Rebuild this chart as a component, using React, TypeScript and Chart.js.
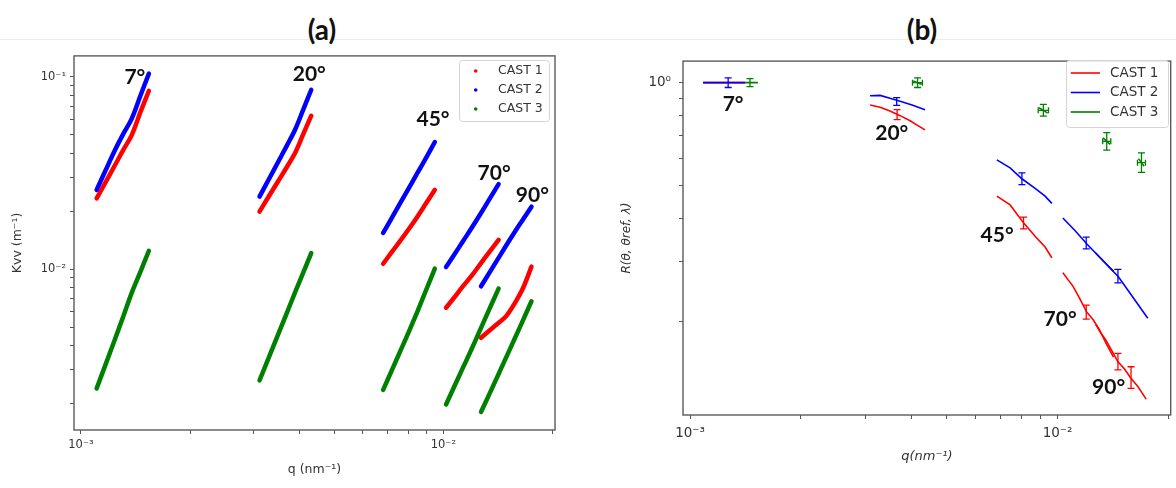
import React, { useEffect, useRef } from 'react';
import { Chart, registerables } from 'chart.js';

Chart.register(...registerables);

// ---------- shared ----------
const CASTS = ['CAST 1', 'CAST 2', 'CAST 3'];
const CAST_COLORS = ['#ff0000', '#0000ff', '#008000'];
const ANGLES = ['7°', '20°', '45°', '70°', '90°'];

// ---------- panel (a): Kvv (m^-1) vs q (nm^-1) ----------
const A_Q_7 = [0.001105, 0.00117, 0.00124, 0.00131, 0.00138, 0.00146, 0.00154];
const A_CAST1_7 = [0.0233, 0.0283, 0.0345, 0.0417, 0.0495, 0.0655, 0.0844];
const A_CAST2_7 = [0.0258, 0.0326, 0.0413, 0.0505, 0.0603, 0.0797, 0.1036];
const A_CAST3_7 = [0.0024, 0.0032, 0.0043, 0.0057, 0.0075, 0.0097, 0.01245];

const A_Q_20 = [0.00311, 0.0033, 0.0035, 0.0037, 0.0039, 0.0041, 0.00432];
const A_CAST1_20 = [0.0199, 0.0239, 0.0286, 0.0339, 0.0402, 0.0499, 0.0626];
const A_CAST2_20 = [0.0238, 0.0293, 0.036, 0.0438, 0.0531, 0.0669, 0.0854];
const A_CAST3_20 = [0.00264, 0.00348, 0.00458, 0.00593, 0.00759, 0.00953, 0.0121];

const A_Q_45 = [0.00682, 0.0072, 0.0076, 0.008, 0.00845, 0.00895, 0.00947];
const A_CAST1_45 = [0.01066, 0.01224, 0.014, 0.016, 0.01855, 0.0219, 0.0258];
const A_CAST2_45 = [0.0154, 0.0184, 0.022, 0.026, 0.0312, 0.0377, 0.0457];
const A_CAST3_45 = [0.00236, 0.00297, 0.00374, 0.00465, 0.00593, 0.00774, 0.01005];

const A_Q_70 = [0.01017, 0.0107, 0.0113, 0.012, 0.0127, 0.0134, 0.0142];
const A_CAST1_70 = [0.0063, 0.0071, 0.0081, 0.0093, 0.01075, 0.0123, 0.0142];
const A_CAST2_70 = [0.01024, 0.01184, 0.01387, 0.01649, 0.01955, 0.0231, 0.0276];
const A_CAST3_70 = [0.00198, 0.00244, 0.00305, 0.00389, 0.00495, 0.00621, 0.00792];

const A_Q_90 = [0.0127, 0.0134, 0.0141, 0.0149, 0.0157, 0.0166, 0.0175];
const A_CAST1_90 = [0.0044, 0.0048, 0.0052, 0.0057, 0.0066, 0.008, 0.0103];
const A_CAST2_90 = [0.00814, 0.00958, 0.01119, 0.01326, 0.01549, 0.01816, 0.0211];
const A_CAST3_90 = [0.00181, 0.00225, 0.00277, 0.00348, 0.00432, 0.00545, 0.00681];

const A_LABEL_Q = [0.001409, 0.004266, 0.009362, 0.0138, 0.0176];
const A_LABEL_K = [0.0988, 0.1027, 0.0603, 0.03136, 0.02427];

// ---------- panel (b): R(theta, theta_ref, lambda) vs q ----------
const B_Q1_7 = [0.001085, 0.00125, 0.001413];
const B_R1_7 = [1.0, 1.0, 1.0];
const B_Q2_7 = [0.001085, 0.00125, 0.001413];
const B_R2_7 = [1.0, 1.0, 1.0];
const B_Q3_7 = [0.001413, 0.00147, 0.00153];
const B_R3_7 = [1.0, 1.0, 1.0];

const B_Q1_20 = [0.00309, 0.00329, 0.0035, 0.00373, 0.00397, 0.00417, 0.00436];
const B_R1_20 = [0.861, 0.848, 0.826, 0.801, 0.774, 0.749, 0.728];
const B_Q2_20 = [0.00309, 0.00329, 0.0035, 0.00373, 0.00402, 0.00436];
const B_R2_20 = [0.916, 0.918, 0.9, 0.882, 0.86, 0.834];
const B_Q3_20 = [0.00405, 0.00416, 0.00427];
const B_R3_20 = [1.012, 1.0, 0.99];

const B_Q1_45 = [0.00684, 0.00743, 0.00808, 0.00869, 0.00925, 0.00965];
const B_R1_45 = [0.466, 0.4395, 0.3895, 0.356, 0.331, 0.308];
const B_Q2_45 = [0.00684, 0.00743, 0.008, 0.00869, 0.00925, 0.00965];
const B_R2_45 = [0.595, 0.564, 0.524, 0.491, 0.466, 0.444];
const B_Q3_45 = [0.0089, 0.00915, 0.0094];
const B_R3_45 = [0.845, 0.83, 0.815];

const B_Q1_70 = [0.01034, 0.0107, 0.011, 0.0114, 0.012, 0.0125, 0.013, 0.0136, 0.0142];
const B_R1_70 = [0.2786, 0.265, 0.255, 0.238, 0.214, 0.203, 0.19, 0.172, 0.158];
const B_Q2_70 = [0.01034, 0.0112, 0.01202, 0.0131, 0.0142];
const B_R2_70 = [0.4026, 0.368, 0.338, 0.307, 0.281];
const B_Q3_70 = [0.0133, 0.01361, 0.0139];
const B_R3_70 = [0.69, 0.674, 0.66];

const B_Q1_90 = [0.0127, 0.0131, 0.0135, 0.014, 0.0146, 0.0152, 0.0158, 0.0165, 0.017, 0.01742];
const B_R1_90 = [0.197, 0.186, 0.178, 0.166, 0.153, 0.146, 0.1375, 0.13, 0.124, 0.119];
const B_Q2_90 = [0.0127, 0.0135, 0.01464, 0.016, 0.0176];
const B_R2_90 = [0.318, 0.297, 0.271, 0.237, 0.205];
const B_Q3_90 = [0.0166, 0.01692, 0.0172];
const B_R3_90 = [0.6, 0.584, 0.57];

// error bars (vertical)
const B_ERR_Q_CAST1 = [0.00366, 0.00808, 0.01197, 0.0146, 0.01585];
const B_ERR_LO_CAST1 = [0.78, 0.374, 0.204, 0.145, 0.128];
const B_ERR_HI_CAST1 = [0.834, 0.405, 0.224, 0.162, 0.148];
const B_ERR_Q_CAST2 = [0.00127, 0.00365, 0.008, 0.01197, 0.0146];
const B_ERR_LO_CAST2 = [0.968, 0.858, 0.504, 0.327, 0.26];
const B_ERR_HI_CAST2 = [1.033, 0.904, 0.545, 0.354, 0.285];
const B_ERR_Q_CAST3 = [0.001456, 0.00416, 0.00915, 0.01361, 0.01692];
const B_ERR_LO_CAST3 = [0.974, 0.968, 0.798, 0.635, 0.547];
const B_ERR_HI_CAST3 = [1.027, 1.033, 0.864, 0.715, 0.624];
// error bars (horizontal, CAST 3)
const B_XERR_R_CAST3 = [1.0, 0.83, 0.674, 0.584];
const B_XERR_LO_CAST3 = [0.00403, 0.00886, 0.01327, 0.0165];
const B_XERR_HI_CAST3 = [0.00429, 0.00945, 0.01396, 0.01735];

const B_LABEL_Q = [0.00131, 0.00354, 0.006849, 0.01016, 0.01377];
const B_LABEL_R = [0.865, 0.71, 0.3583, 0.2039, 0.1286];

// ---------- ticks ----------
const X_MIN = 0.000957;
const X_MAX = 0.02032;
const X_MAJOR = [0.001, 0.01];
const X_MAJOR_LABELS = ['10⁻³', '10⁻²'];
const X_MINOR = [0.002, 0.003, 0.004, 0.005, 0.006, 0.007, 0.008, 0.009, 0.02];

const A_Y_MIN = 0.00146;
const A_Y_MAX = 0.128;
const A_Y_MAJOR = [0.01, 0.1];
const A_Y_MAJOR_LABELS = ['10⁻²', '10⁻¹'];
const A_Y_MINOR = [0.002, 0.003, 0.004, 0.005, 0.006, 0.007, 0.008, 0.009, 0.02, 0.03, 0.04, 0.05, 0.06, 0.07, 0.08, 0.09];

const B_Y_MIN = 0.107;
const B_Y_MAX = 1.156;
const B_Y_MAJOR = [1];
const B_Y_MAJOR_LABELS = ['10⁰'];
const B_Y_MINOR = [0.2, 0.3, 0.4, 0.5, 0.6, 0.7, 0.8, 0.9];

// ---------- tables built from the arrays ----------
const A_SERIES = [
  { q: A_Q_7, k: [A_CAST1_7, A_CAST2_7, A_CAST3_7] },
  { q: A_Q_20, k: [A_CAST1_20, A_CAST2_20, A_CAST3_20] },
  { q: A_Q_45, k: [A_CAST1_45, A_CAST2_45, A_CAST3_45] },
  { q: A_Q_70, k: [A_CAST1_70, A_CAST2_70, A_CAST3_70] },
  { q: A_Q_90, k: [A_CAST1_90, A_CAST2_90, A_CAST3_90] },
];

const B_SERIES = [
  [[B_Q1_7, B_R1_7], [B_Q2_7, B_R2_7], [B_Q3_7, B_R3_7]],
  [[B_Q1_20, B_R1_20], [B_Q2_20, B_R2_20], [B_Q3_20, B_R3_20]],
  [[B_Q1_45, B_R1_45], [B_Q2_45, B_R2_45], [B_Q3_45, B_R3_45]],
  [[B_Q1_70, B_R1_70], [B_Q2_70, B_R2_70], [B_Q3_70, B_R3_70]],
  [[B_Q1_90, B_R1_90], [B_Q2_90, B_R2_90], [B_Q3_90, B_R3_90]],
];

const B_ERRORS = [
  [B_ERR_Q_CAST1, B_ERR_LO_CAST1, B_ERR_HI_CAST1],
  [B_ERR_Q_CAST2, B_ERR_LO_CAST2, B_ERR_HI_CAST2],
  [B_ERR_Q_CAST3, B_ERR_LO_CAST3, B_ERR_HI_CAST3],
];

// ---------- styling helpers ----------
const FONT = "'DejaVu Sans', 'Liberation Sans', sans-serif";
const BOLD_FONT = "Lato, 'Open Sans', sans-serif";
const TICK_COLOR = '#555555';
const LABEL_COLOR = '#333333';

function makeAxis(p: any) {
  const values = [...p.major, ...p.minor].sort((a: number, b: number) => a - b);
  return {
    type: 'logarithmic',
    position: p.position,
    min: p.min,
    max: p.max,
    afterBuildTicks: (scale: any) => {
      scale.ticks = values.map((v: number) => ({ value: v, major: p.major.includes(v) }));
    },
    afterFit: (scale: any) => {
      if (p.position === 'bottom') scale.height = p.size;
      else scale.width = p.size;
    },
    ticks: {
      autoSkip: false,
      maxRotation: 0,
      minRotation: 0,
      padding: p.pad,
      color: LABEL_COLOR,
      font: { family: FONT, size: p.fontSize },
      callback: (v: number) => {
        const i = p.major.findIndex((m: number) => Math.abs(m - v) <= m * 1e-6);
        return i >= 0 ? p.majorLabels[i] : '';
      },
    },
    grid: {
      display: true,
      drawOnChartArea: false,
      drawTicks: true,
      tickLength: 4,
      tickColor: TICK_COLOR,
      tickWidth: 1,
    },
    border: { display: false },
    title: {
      display: true,
      text: p.title,
      color: LABEL_COLOR,
      font: { family: FONT, size: p.titleSize, style: p.italic ? 'italic' : 'normal' },
      padding: p.titlePad,
    },
  };
}

const framePlugin = {
  id: 'frame',
  afterDatasetsDraw(chart: any) {
    const { ctx, chartArea: a } = chart;
    ctx.save();
    ctx.strokeStyle = '#5a5a5a';
    ctx.lineWidth = 1.4;
    ctx.strokeRect(a.left, a.top, a.right - a.left, a.bottom - a.top);
    ctx.restore();
  },
};

function angleLabelPlugin(qs: number[], vs: number[], size: number) {
  return {
    id: 'angleLabels',
    afterDatasetsDraw(chart: any) {
      const { ctx, scales } = chart;
      ctx.save();
      ctx.font = `bold ${size}px ${BOLD_FONT}`;
      ctx.fillStyle = '#111111';
      ctx.textAlign = 'center';
      ctx.textBaseline = 'middle';
      ANGLES.forEach((t, i) => {
        ctx.fillText(t, scales.x.getPixelForValue(qs[i]), scales.y.getPixelForValue(vs[i]));
      });
      ctx.restore();
    },
  };
}

function legendPlugin(cfg: any) {
  return {
    id: 'boxLegend',
    afterDraw(chart: any) {
      const ctx = chart.ctx;
      const { x0, y0, x1, y1 } = cfg.box;
      const r = 3;
      ctx.save();
      ctx.beginPath();
      ctx.moveTo(x0 + r, y0);
      ctx.lineTo(x1 - r, y0);
      ctx.arcTo(x1, y0, x1, y0 + r, r);
      ctx.lineTo(x1, y1 - r);
      ctx.arcTo(x1, y1, x1 - r, y1, r);
      ctx.lineTo(x0 + r, y1);
      ctx.arcTo(x0, y1, x0, y1 - r, r);
      ctx.lineTo(x0, y0 + r);
      ctx.arcTo(x0, y0, x0 + r, y0, r);
      ctx.closePath();
      ctx.fillStyle = 'rgba(255,255,255,0.85)';
      ctx.fill();
      ctx.strokeStyle = '#d4d4d4';
      ctx.lineWidth = 1;
      ctx.stroke();
      CASTS.forEach((name, i) => {
        const y = cfg.firstRow + i * cfg.rowGap;
        if (cfg.kind === 'dot') {
          ctx.fillStyle = CAST_COLORS[i];
          ctx.beginPath();
          ctx.arc(cfg.markX0, y, 1.8, 0, Math.PI * 2);
          ctx.fill();
        } else {
          ctx.strokeStyle = CAST_COLORS[i];
          ctx.lineWidth = 1.6;
          ctx.beginPath();
          ctx.moveTo(cfg.markX0, y);
          ctx.lineTo(cfg.markX1, y);
          ctx.stroke();
        }
        ctx.fillStyle = LABEL_COLOR;
        ctx.font = `${cfg.fontSize}px ${FONT}`;
        ctx.textAlign = 'left';
        ctx.textBaseline = 'middle';
        ctx.fillText(name, cfg.textX, y);
      });
      ctx.restore();
    },
  };
}

function buildA(): any {
  const datasets: any[] = [];
  A_SERIES.forEach((s) => {
    s.k.forEach((vals, c) => {
      datasets.push({
        label: CASTS[c],
        data: s.q.map((q, j) => ({ x: q, y: vals[j] })),
        showLine: true,
        borderColor: CAST_COLORS[c],
        backgroundColor: CAST_COLORS[c],
        borderWidth: 4.5,
        borderCapStyle: 'round',
        borderJoinStyle: 'round',
        tension: 0.35,
        pointRadius: 0,
        order: 3 - c,
      });
    });
  });
  return {
    type: 'scatter',
    data: { datasets },
    options: {
      responsive: false,
      animation: false,
      events: [],
      layout: { padding: { left: 0, top: 9, right: 33, bottom: 0 } },
      plugins: { legend: { display: false }, tooltip: { enabled: false } },
      scales: {
        x: makeAxis({
          position: 'bottom', min: X_MIN, max: X_MAX, major: X_MAJOR, majorLabels: X_MAJOR_LABELS,
          minor: X_MINOR, size: 58, pad: 4, fontSize: 11.5, title: 'q (nm⁻¹)', titleSize: 12.5,
          titlePad: { top: 0, bottom: 10.5 },
        }),
        y: makeAxis({
          position: 'left', min: A_Y_MIN, max: A_Y_MAX, major: A_Y_MAJOR, majorLabels: A_Y_MAJOR_LABELS,
          minor: A_Y_MINOR, size: 74, pad: 4, fontSize: 11.5, title: 'Kvv (m⁻¹)', titleSize: 12.5,
          titlePad: { top: 10.5, bottom: 0 },
        }),
      },
    },
    plugins: [
      framePlugin,
      angleLabelPlugin(A_LABEL_Q, A_LABEL_K, 21),
      legendPlugin({
        kind: 'dot', box: { x0: 459.5, y0: 15.5, x1: 549.5, y1: 76.5 }, firstRow: 26, rowGap: 19,
        markX0: 475.7, textX: 498, fontSize: 12.5,
      }),
    ],
  };
}

function buildB(): any {
  const datasets: any[] = [];
  B_SERIES.forEach((angle) => {
    angle.forEach(([qs, rs], c) => {
      datasets.push({
        label: CASTS[c],
        data: qs.map((q, j) => ({ x: q, y: rs[j] })),
        showLine: true,
        borderColor: CAST_COLORS[c],
        backgroundColor: CAST_COLORS[c],
        borderWidth: 1.6,
        pointRadius: 0,
        order: 3 - c,
      });
    });
  });
  B_ERRORS.forEach(([qs, lo, hi], c) => {
    qs.forEach((q, j) => {
      datasets.push({
        label: CASTS[c] + ' error',
        data: [{ x: q, y: lo[j] }, { x: q, y: hi[j] }],
        showLine: true,
        borderColor: CAST_COLORS[c],
        borderWidth: 1.3,
        pointStyle: 'line',
        pointRadius: 3.5,
        pointBorderColor: CAST_COLORS[c],
        pointBorderWidth: 1.3,
        order: 3 - c,
      });
    });
  });
  B_XERR_R_CAST3.forEach((r, j) => {
    datasets.push({
      label: CASTS[2] + ' q error',
      data: [{ x: B_XERR_LO_CAST3[j], y: r }, { x: B_XERR_HI_CAST3[j], y: r }],
      showLine: true,
      borderColor: CAST_COLORS[2],
      borderWidth: 1.3,
      pointStyle: 'line',
      pointRotation: 90,
      pointRadius: 3,
      pointBorderColor: CAST_COLORS[2],
      pointBorderWidth: 1.3,
      order: 1,
    });
  });
  return {
    type: 'scatter',
    data: { datasets },
    options: {
      responsive: false,
      animation: false,
      events: [],
      layout: { padding: { left: 0, top: 8, right: 5, bottom: 0 } },
      plugins: { legend: { display: false }, tooltip: { enabled: false } },
      scales: {
        x: makeAxis({
          position: 'bottom', min: X_MIN, max: X_MAX, major: X_MAJOR, majorLabels: X_MAJOR_LABELS,
          minor: X_MINOR, size: 73, pad: 6, fontSize: 13.5, title: 'q(nm⁻¹)', titleSize: 13,
          italic: true, titlePad: { top: 0, bottom: 23.5 },
        }),
        y: makeAxis({
          position: 'left', min: B_Y_MIN, max: B_Y_MAX, major: B_Y_MAJOR, majorLabels: B_Y_MAJOR_LABELS,
          minor: B_Y_MINOR, size: 95, pad: 8, fontSize: 13.5, title: 'R(θ, θref, λ)', titleSize: 12,
          italic: true, titlePad: { top: 32, bottom: 0 },
        }),
      },
    },
    plugins: [
      framePlugin,
      angleLabelPlugin(B_LABEL_Q, B_LABEL_R, 21),
      legendPlugin({
        kind: 'line', box: { x0: 478.5, y0: 15.5, x1: 580.5, y1: 82.5 }, firstRow: 28, rowGap: 19.5,
        markX0: 482.7, markX1: 512, textX: 522, fontSize: 13.5,
      }),
    ],
  };
}

function titleStyle(cx: number): React.CSSProperties {
  return {
    position: 'absolute',
    left: cx - 60,
    top: 12,
    width: 120,
    height: 34,
    lineHeight: '34px',
    textAlign: 'center',
    fontFamily: BOLD_FONT,
    fontWeight: 700,
    fontSize: 28,
    color: '#111111',
  };
}

export default function App() {
  const refA = useRef<HTMLCanvasElement>(null);
  const refB = useRef<HTMLCanvasElement>(null);

  useEffect(() => {
    const a = new Chart(refA.current as HTMLCanvasElement, buildA());
    const b = new Chart(refB.current as HTMLCanvasElement, buildB());
    return () => {
      a.destroy();
      b.destroy();
    };
  }, []);

  return (
    <div
      style={{
        position: 'absolute',
        left: 0,
        top: 0,
        width: 1176,
        height: 488,
        background: '#ffffff',
        overflow: 'hidden',
      }}
    >
      <div style={{ position: 'absolute', left: 0, top: 39, width: 1176, height: 1, background: '#ececec' }} />
      <div style={titleStyle(322)}>(a)</div>
      <div style={titleStyle(922)}>(b)</div>
      <canvas
        ref={refA}
        width={588}
        height={443}
        style={{ position: 'absolute', left: 0, top: 45, width: 588, height: 443 }}
      />
      <canvas
        ref={refB}
        width={588}
        height={443}
        style={{ position: 'absolute', left: 588, top: 45, width: 588, height: 443 }}
      />
    </div>
  );
}
